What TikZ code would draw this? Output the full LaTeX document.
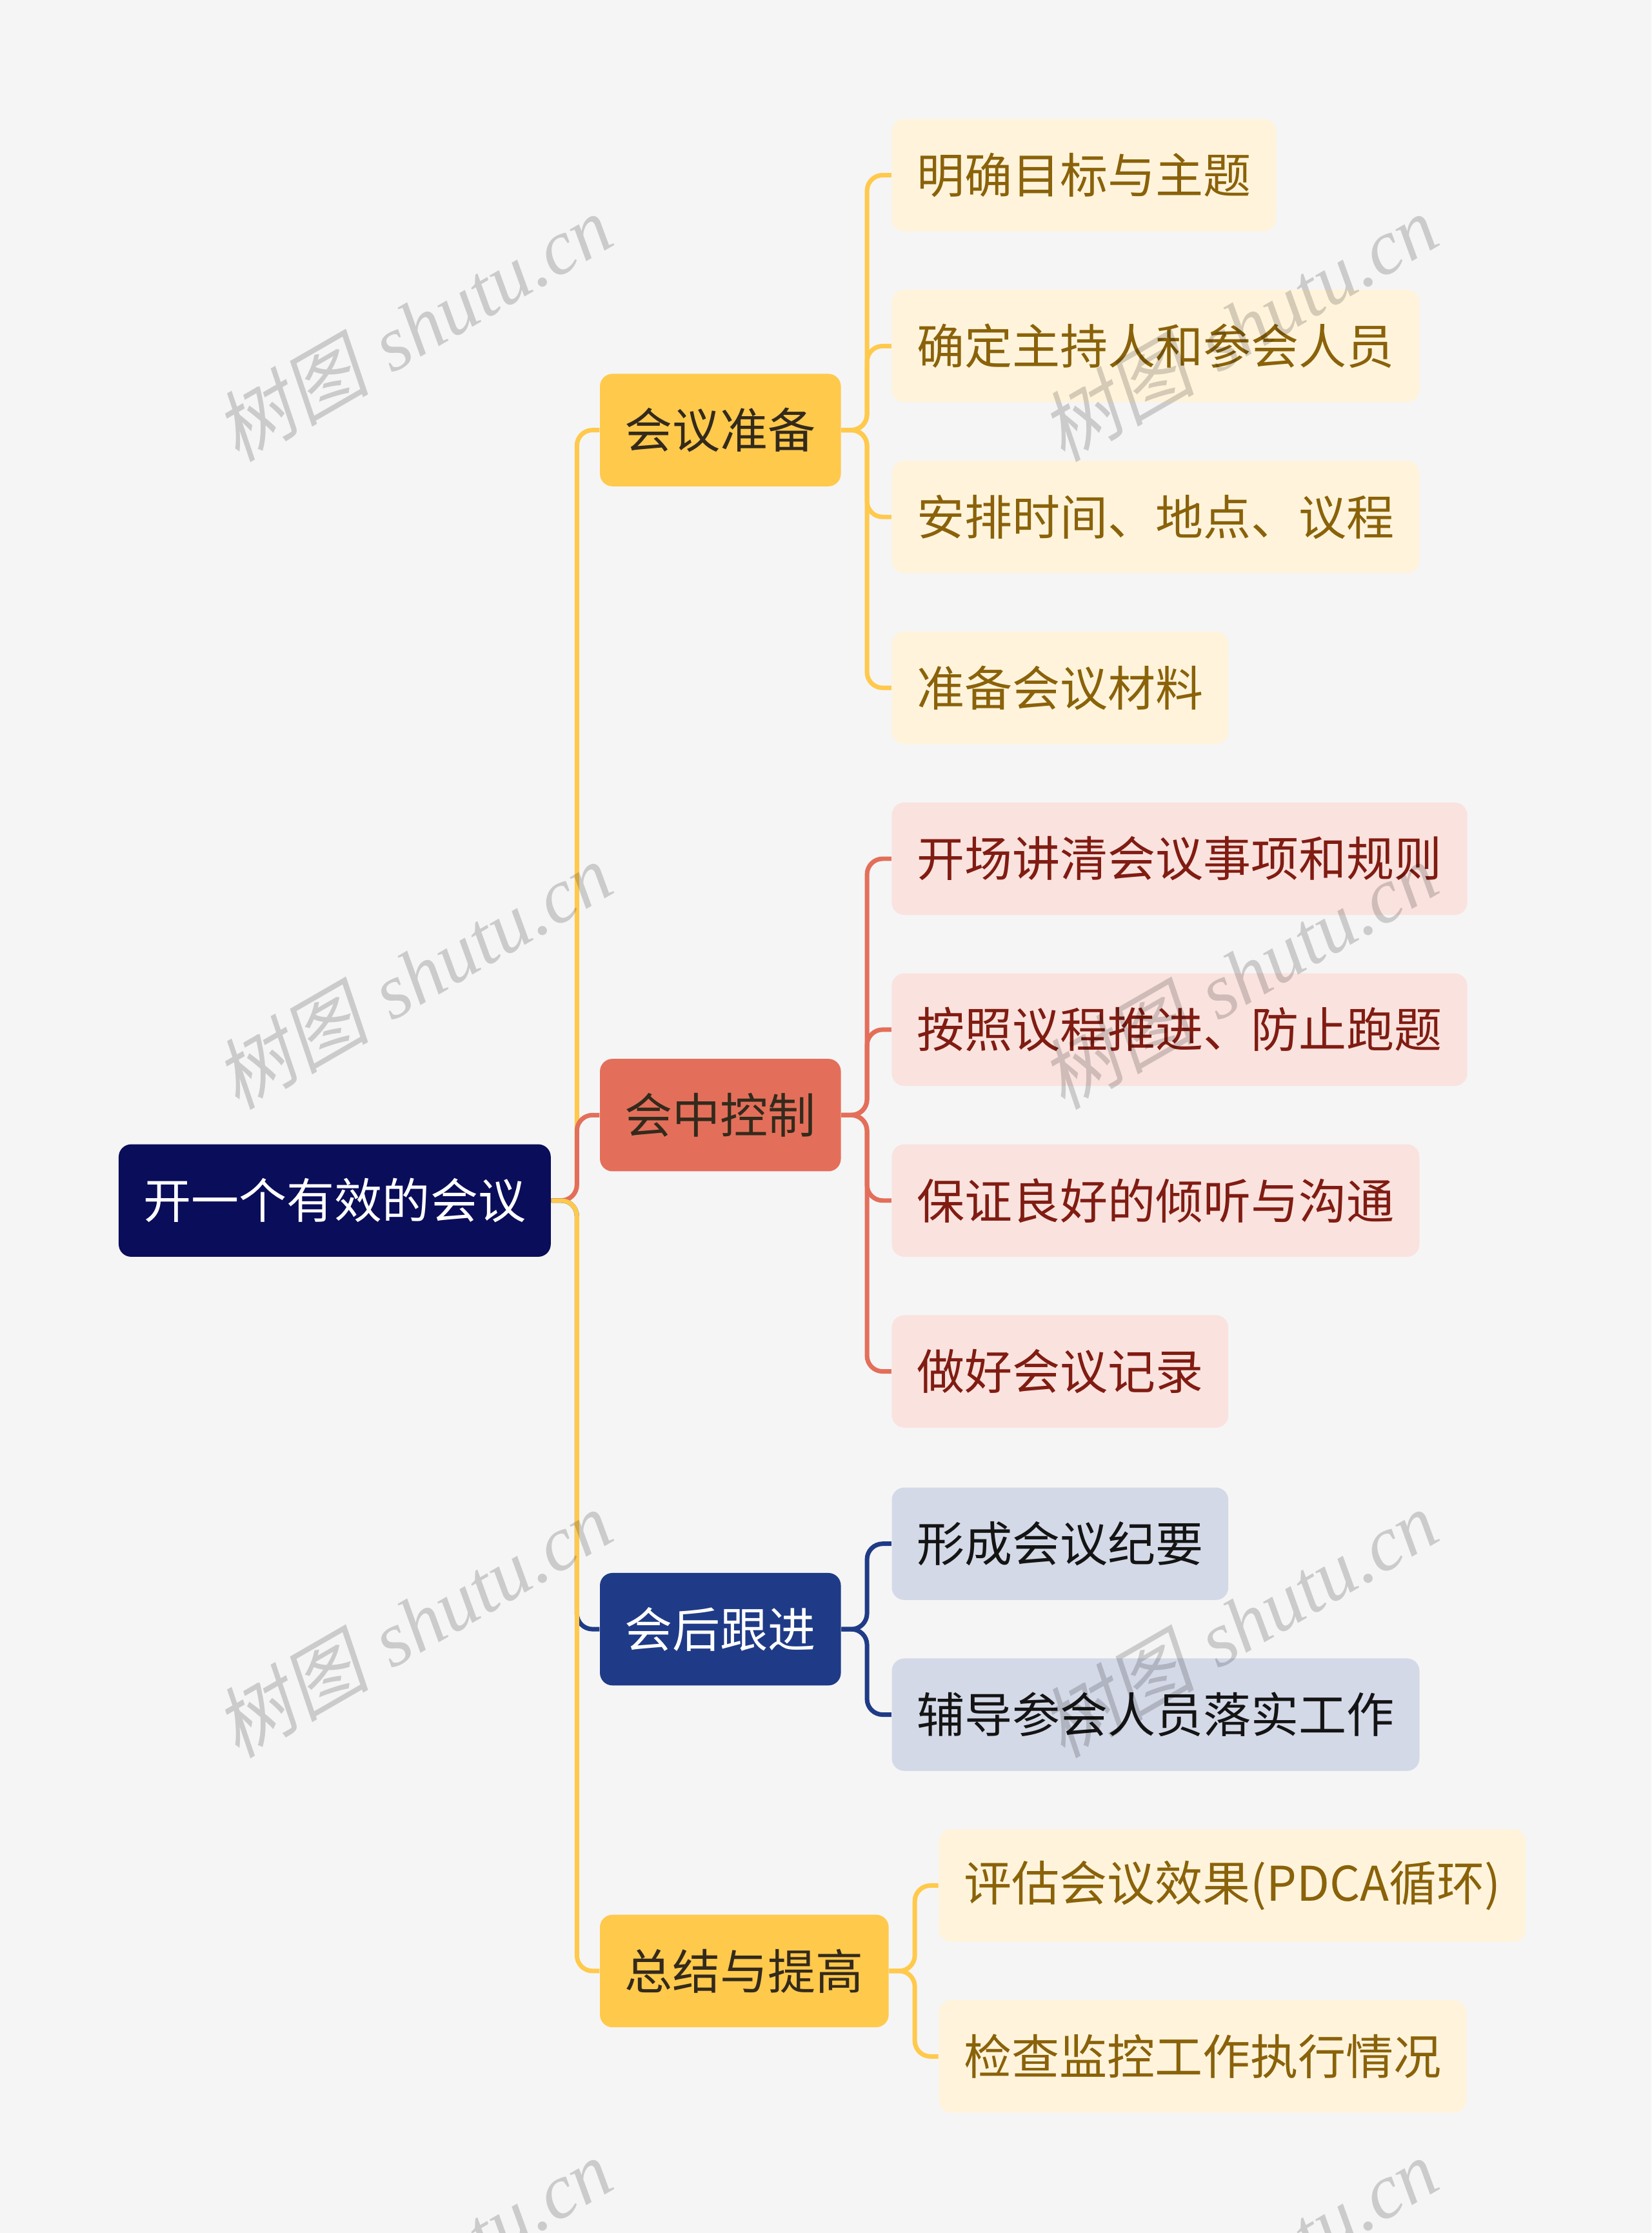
\documentclass[tikz,border=0pt]{standalone}
\usepackage{fontspec}
\newfontfamily\cjk{Noto Sans CJK SC}
\newfontfamily\wmcjk[FakeSlant=0.2]{Noto Sans CJK SC}
\newfontfamily\wmlat{Liberation Serif}
\usetikzlibrary{positioning}
\definecolor{BG}{RGB}{245,245,245}
\definecolor{Navy}{RGB}{10,13,90}
\definecolor{Y1}{RGB}{255,201,76}
\definecolor{Y2}{RGB}{255,244,219}
\definecolor{YT}{RGB}{138,98,10}
\definecolor{R1}{RGB}{227,111,90}
\definecolor{R2}{RGB}{250,226,222}
\definecolor{RT}{RGB}{128,28,18}
\definecolor{B1}{RGB}{31,59,135}
\definecolor{B2}{RGB}{212,217,232}
\definecolor{DK}{RGB}{51,42,28}
\definecolor{BT}{RGB}{20,20,20}

\begin{document}
\begin{tikzpicture}[x=0.02cm, y=-0.02cm,
  box/.style={rounded corners=5pt, anchor=west,
              minimum height=1.58cm, inner xsep=0.35cm, inner ysep=0pt,
              font=\cjk\fontsize{19.1}{23}\selectfont},
  link/.style={line width=1.8pt, rounded corners=0.22cm},
  wmark/.style={rotate=30, text=black, opacity=0.17,
                font=\fontsize{31}{35}\selectfont}
]
\fill[BG] (0,0) rectangle (1160,1568);
\clip (0,0) rectangle (1160,1568);

% Root
\node[box, fill=Navy, text=white] (root) at (83,843) {开一个有效的会议};

% Main branches
\foreach \n/\y/\fc/\tc/\lbl in {prep/302/Y1/DK/会议准备, ctrl/783/R1/DK/会中控制,
                                follow/1144/B1/white/会后跟进, sum/1384/Y1/DK/总结与提高}{
  \node[box, fill=\fc, text=\tc] (\n) at (421,\y) {\lbl};
  \draw[link, \fc] (root.east) -- ++(18,0) |- (\n.west);
}

% Preparation  y=123..483
\foreach \n/\y/\lbl in {p1/123/明确目标与主题, p2/243/确定主持人和参会人员,
                        p3/363/安排时间、地点、议程, p4/483/准备会议材料}{
  \node[box, fill=Y2, text=YT] (\n) at (626,\y) {\lbl};
  \draw[link, Y1] (prep.east) -- ++(18,0) |- (\n.west);
}

% In-meeting control  y=603..963
\foreach \n/\y/\lbl in {c1/603/开场讲清会议事项和规则, c2/723/按照议程推进、防止跑题,
                        c3/843/保证良好的倾听与沟通, c4/963/做好会议记录}{
  \node[box, fill=R2, text=RT] (\n) at (626,\y) {\lbl};
  \draw[link, R1] (ctrl.east) -- ++(18,0) |- (\n.west);
}

% Follow-up  y=1084..1204
\foreach \n/\y/\lbl in {f1/1084/形成会议纪要, f2/1204/辅导参会人员落实工作}{
  \node[box, fill=B2, text=BT] (\n) at (626,\y) {\lbl};
  \draw[link, B1] (follow.east) -- ++(18,0) |- (\n.west);
}

% Summary  y=1324..1444
\foreach \n/\y/\lbl in {s1/1324/评估会议效果(PDCA循环), s2/1444/检查监控工作执行情况}{
  \node[box, fill=Y2, text=YT] (\n) at (659,\y) {\lbl};
  \draw[link, Y1] (sum.east) -- ++(18,0) |- (\n.west);
}

% Watermarks
\foreach \x in {290,870}
  \foreach \y in {230,685,1140,1595}
    \node[wmark] (wm-\x-\y) at (\x,\y) {{\wmcjk 树图} {\wmlat\itshape shutu.cn}};
\end{tikzpicture}
\end{document}
